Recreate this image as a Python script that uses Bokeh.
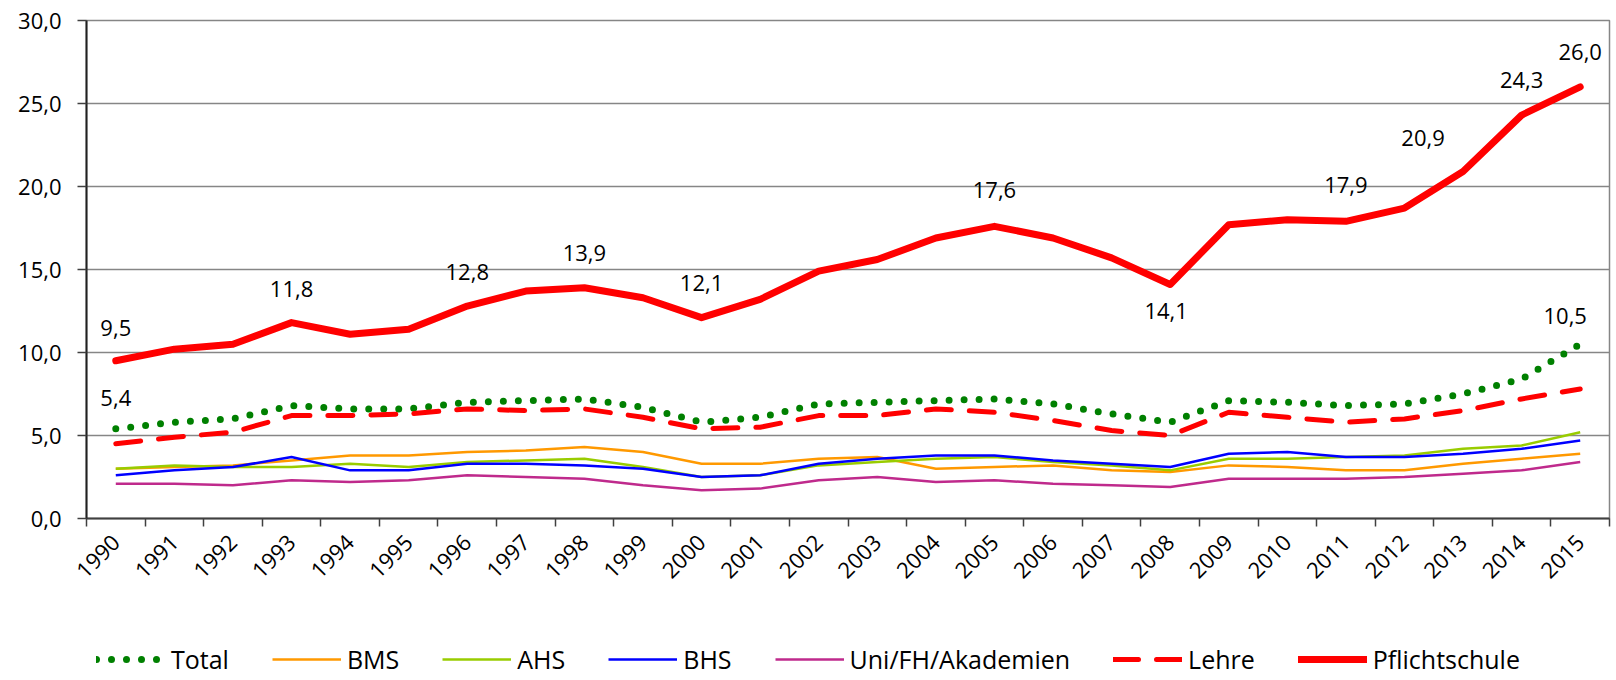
import numpy as np
from bokeh.plotting import figure
from bokeh.layouts import column
from bokeh.models import (Range1d, FixedTicker, CustomJSTickFormatter, Legend,
                          LegendItem, ColumnDataSource)
from bokeh.core.properties import value
from bokeh.embed import file_html
from bokeh.resources import INLINE

# ---------------- data ----------------
years = [str(y) for y in range(1990, 2016)]
total = [5.4, 5.8, 6.0, 6.8, 6.6, 6.6, 7.0, 7.1, 7.2, 6.7, 5.8, 6.1, 6.9,
         7.0, 7.1, 7.2, 6.9, 6.3, 5.8, 7.1, 7.0, 6.8, 6.9, 7.5, 8.4, 10.5]
bms = [3.0, 3.1, 3.2, 3.5, 3.8, 3.8, 4.0, 4.1, 4.3, 4.0, 3.3, 3.3, 3.6,
       3.7, 3.0, 3.1, 3.2, 2.9, 2.8, 3.2, 3.1, 2.9, 2.9, 3.3, 3.6, 3.9]
ahs = [3.0, 3.2, 3.1, 3.1, 3.3, 3.1, 3.4, 3.5, 3.6, 3.1, 2.5, 2.6, 3.2,
       3.4, 3.6, 3.7, 3.4, 3.2, 2.9, 3.6, 3.6, 3.7, 3.8, 4.2, 4.4, 5.2]
bhs = [2.6, 2.9, 3.1, 3.7, 2.9, 2.9, 3.3, 3.3, 3.2, 3.0, 2.5, 2.6, 3.3,
       3.6, 3.8, 3.8, 3.5, 3.3, 3.1, 3.9, 4.0, 3.7, 3.7, 3.9, 4.2, 4.7]
uni = [2.1, 2.1, 2.0, 2.3, 2.2, 2.3, 2.6, 2.5, 2.4, 2.0, 1.7, 1.8, 2.3,
       2.5, 2.2, 2.3, 2.1, 2.0, 1.9, 2.4, 2.4, 2.4, 2.5, 2.7, 2.9, 3.4]
lehre = [4.5, 4.9, 5.2, 6.2, 6.2, 6.3, 6.6, 6.5, 6.6, 6.1, 5.4, 5.5, 6.2,
         6.2, 6.6, 6.4, 5.9, 5.3, 5.0, 6.4, 6.1, 5.8, 6.0, 6.5, 7.2, 7.8]
pflicht = [9.5, 10.2, 10.5, 11.8, 11.1, 11.4, 12.8, 13.7, 13.9, 13.3, 12.1,
           13.2, 14.9, 15.6, 16.9, 17.6, 16.9, 15.7, 14.1, 17.7, 18.0, 17.9,
           18.7, 20.9, 24.3, 26.0]
series_names = ["Total", "BMS", "AHS", "BHS", "Uni/FH/Akademien", "Lehre", "Pflichtschule"]
y_ticks = [0, 5, 10, 15, 20, 25, 30]

# which points carry data labels
pflicht_label_years = ["1990", "1993", "1996", "1998", "2000", "2005", "2008",
                       "2011", "2013", "2014", "2015"]
total_label_years = ["1990", "2015"]

# ---------------- styling ----------------
FONT = "Open Sans"
x = list(range(len(years)))

styles = [
    dict(line_color="#008000", line_width=7, line_dash="0 15", line_cap="round"),
    dict(line_color="#FF9900", line_width=2.5),
    dict(line_color="#99CC00", line_width=2.5),
    dict(line_color="#0000FF", line_width=2.5),
    dict(line_color="#BF2A8C", line_width=2.5),
    dict(line_color="#FF0000", line_width=5, line_dash="25 18", line_cap="round"),
    dict(line_color="#FF0000", line_width=7, line_cap="round", line_join="round"),
]
series = [total, bms, ahs, bhs, uni, lehre, pflicht]

p = figure(width=1612, height=600, output_backend="svg", toolbar_location=None,
           x_range=Range1d(-0.5, len(years) - 0.5), y_range=Range1d(0, 30),
           min_border_left=86, min_border_top=20, min_border_right=3,
           min_border_bottom=82)
p.background_fill_color = "white"
p.border_fill_color = "white"
p.outline_line_color = "#868686"
p.outline_line_width = 1.5

# x axis
xa = p.xaxis[0]
xa.ticker = FixedTicker(ticks=x, minor_ticks=[i - 0.5 for i in range(len(years) + 1)])
xa.major_label_overrides = {i: years[i] for i in x}
xa.major_label_orientation = np.pi / 4
xa.major_tick_line_color = None
xa.major_tick_out = 8
xa.major_tick_in = 0
xa.minor_tick_out = 8
xa.minor_tick_in = 0
xa.minor_tick_line_color = "#404040"
xa.minor_tick_line_width = 1.5
xa.axis_line_color = "#404040"
xa.axis_line_width = 2
xa.major_label_standoff = 12
xa.major_label_text_font = FONT
xa.major_label_text_font_size = "22px"
xa.major_label_text_color = "black"

# y axis
ya = p.yaxis[0]
ya.ticker = FixedTicker(ticks=y_ticks)
ya.formatter = CustomJSTickFormatter(code="return tick.toFixed(1).replace('.', ',');")
ya.axis_line_color = "#202020"
ya.axis_line_width = 2
ya.major_tick_out = 9
ya.major_tick_in = 0
ya.major_tick_line_color = "#404040"
ya.major_tick_line_width = 1.5
ya.minor_tick_line_color = None
ya.major_label_standoff = 16
ya.major_label_text_font = FONT
ya.major_label_text_font_size = "22px"
ya.major_label_text_color = "black"

p.xgrid.grid_line_color = None
p.ygrid.grid_line_color = "#868686"
p.ygrid.grid_line_width = 1.5

# lines
for vals, st in zip(series, styles):
    p.line(x, vals, **st)

# data labels
def fmt(v):
    return f"{v:.1f}".replace(".", ",")

pf_idx = [years.index(y) for y in pflicht_label_years]
pf_dx = [0, 0, 0, 0, 0, 0, -4, 0, -40, 0, 0]
pf_dy = [-33, -34, -34, -35, -35, -36, 27, -36, -34, -35, -35]
src_pf = ColumnDataSource(dict(
    x=pf_idx, y=[pflicht[i] for i in pf_idx], t=[fmt(pflicht[i]) for i in pf_idx],
    dx=pf_dx, dy=pf_dy))
p.text(x="x", y="y", text="t", x_offset="dx", y_offset="dy", source=src_pf,
       text_align="center", text_baseline="middle", text_font=value(FONT),
       text_font_size="22px", text_color="black")

tt_idx = [years.index(y) for y in total_label_years]
tt_dx = [0, -15]
tt_dy = [-31, -28]
src_tt = ColumnDataSource(dict(
    x=tt_idx, y=[total[i] for i in tt_idx], t=[fmt(total[i]) for i in tt_idx],
    dx=tt_dx, dy=tt_dy))
p.text(x="x", y="y", text="t", x_offset="dx", y_offset="dy", source=src_tt,
       text_align="center", text_baseline="middle", text_font=value(FONT),
       text_font_size="22px", text_color="black")

# legend strip: separate figure underneath; its copies of the series lie
# outside its (hidden) ranges so only the legend is seen
pl = figure(width=1612, height=76, output_backend="svg", toolbar_location=None,
            x_range=Range1d(-0.5, len(years) - 0.5), y_range=Range1d(100, 101),
            x_axis_type=None, y_axis_type=None,
            min_border_left=0, min_border_right=0, min_border_top=0, min_border_bottom=0)
pl.outline_line_color = None
pl.xgrid.grid_line_color = None
pl.ygrid.grid_line_color = None
leg_renderers = [pl.line(x, vals, **st) for vals, st in zip(series, styles)]

legend = Legend(items=[LegendItem(label=n, renderers=[r]) for n, r in zip(series_names, leg_renderers)],
                orientation="horizontal", location=(10, 0))
legend.glyph_width = 69
legend.glyph_height = 20
legend.label_height = 20
legend.label_standoff = 6
legend.spacing = 43
legend.padding = 0
legend.margin = 0
legend.border_line_color = None
legend.background_fill_alpha = 0
legend.label_text_font = FONT
legend.label_text_font_size = "25px"
legend.label_text_color = "black"
pl.add_layout(legend)

layout = column(p, pl, spacing=0)
open("out.html", "w").write(file_html(layout, INLINE))
